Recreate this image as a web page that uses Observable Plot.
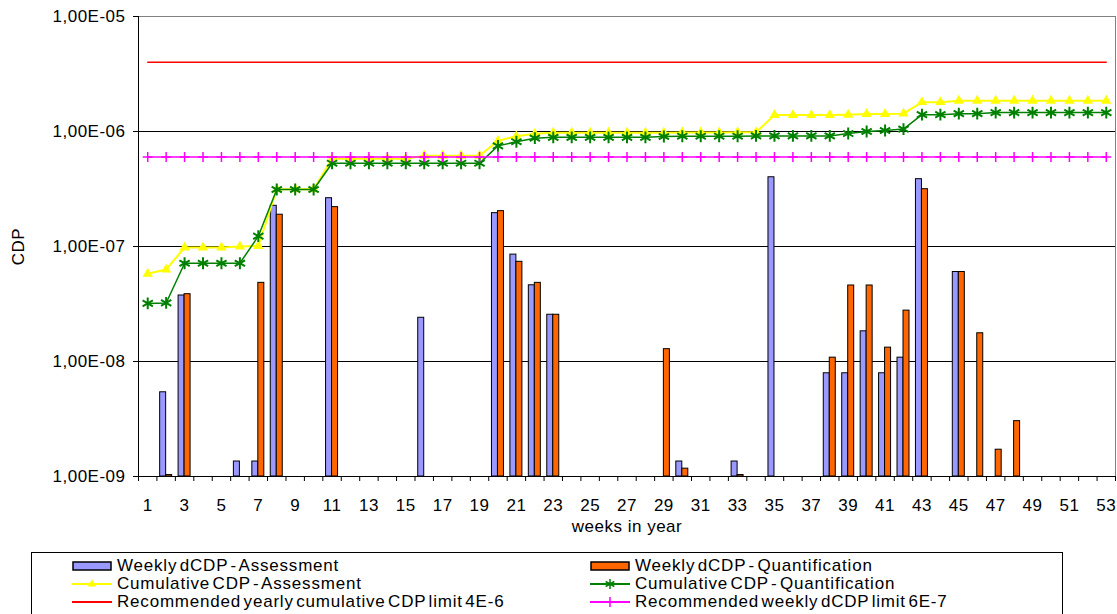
<!DOCTYPE html>
<html><head><meta charset="utf-8">
<script src="https://cdn.jsdelivr.net/npm/d3@7"></script>
<script src="https://cdn.jsdelivr.net/npm/@observablehq/plot@0.6"></script>
<style>
body{margin:0;background:#fff;font-family:"Liberation Sans",Arial,sans-serif;}
#wrap{position:relative;width:1117px;height:614px;overflow:hidden;background:#fff;}
#chart{position:absolute;left:0;top:0;}
#legend{position:absolute;left:31px;top:552px;width:1032px;height:80px;border:1px solid #000;box-sizing:border-box;background:#fff;}
.item{position:absolute;display:flex;align-items:center;font-size:17px;letter-spacing:0.8px;word-spacing:-3px;height:18px;white-space:nowrap;color:#000;}
.item svg{margin-right:5px;flex:none;}
</style></head><body>
<div id="wrap"><div id="chart"></div><div id="legend"></div></div>
<script>
// ---- data ----
const weeks = [1,2,3,4,5,6,7,8,9,10,11,12,13,14,15,16,17,18,19,20,21,22,23,24,25,26,27,28,29,30,31,32,33,34,35,36,37,38,39,40,41,42,43,44,45,46,47,48,49,50,51,52,53];
const weekLabels = [1,3,5,7,9,11,13,15,17,19,21,23,25,27,29,31,33,35,37,39,41,43,45,47,49,51,53];
const weeklyAssessment = [
  0, 5.4e-9, 3.75e-8, 0, 0, 1.35e-9, 1.35e-9, 2.26e-7, 0, 0,
  2.63e-7, 0, 0, 0, 0, 2.4e-8, 0, 0, 0, 1.95e-7,
  8.5e-8, 4.6e-8, 2.55e-8, 0, 0, 0, 0, 0, 0, 1.35e-9,
  0, 0, 1.35e-9, 0, 4.0e-7, 0, 0, 7.9e-9, 7.9e-9, 1.83e-8,
  7.9e-9, 1.08e-8, 3.85e-7, 0, 6.0e-8, 0, 0, 0, 0, 0,
  0, 0, 0];
const weeklyQuantification = [
  0, 1.03e-9, 3.85e-8, 0, 0, 0, 4.83e-8, 1.89e-7, 0, 0,
  2.2e-7, 0, 0, 0, 0, 0, 0, 0, 0, 2.03e-7,
  7.36e-8, 4.83e-8, 2.55e-8, 0, 0, 0, 0, 0, 1.28e-8, 1.17e-9,
  0, 0, 1.03e-9, 0, 0, 0, 0, 1.08e-8, 4.58e-8, 4.58e-8,
  1.32e-8, 2.77e-8, 3.15e-7, 0, 6.0e-8, 1.76e-8, 1.71e-9, 3.03e-9, 0, 0,
  0, 0, 0];
const cumulativeAssessment = [
  5.8e-8, 6.3e-8, 9.8e-8, 9.8e-8, 9.8e-8, 1.0e-7, 1.01e-7, 3.15e-7, 3.15e-7, 3.15e-7,
  5.8e-7, 5.8e-7, 5.8e-7, 5.8e-7, 5.8e-7, 6.15e-7, 6.15e-7, 6.15e-7, 6.15e-7, 8.3e-7,
  9.1e-7, 9.55e-7, 9.75e-7, 9.75e-7, 9.75e-7, 9.75e-7, 9.75e-7, 9.75e-7, 9.75e-7, 9.8e-7,
  9.8e-7, 9.8e-7, 9.85e-7, 9.85e-7, 1.39e-6, 1.39e-6, 1.39e-6, 1.39e-6, 1.4e-6, 1.42e-6,
  1.42e-6, 1.43e-6, 1.8e-6, 1.8e-6, 1.85e-6, 1.85e-6, 1.85e-6, 1.85e-6, 1.85e-6, 1.85e-6,
  1.85e-6, 1.85e-6, 1.85e-6];
const cumulativeQuantification = [
  3.2e-8, 3.23e-8, 7.15e-8, 7.15e-8, 7.15e-8, 7.15e-8, 1.23e-7, 3.13e-7, 3.13e-7, 3.13e-7,
  5.3e-7, 5.3e-7, 5.3e-7, 5.3e-7, 5.3e-7, 5.3e-7, 5.3e-7, 5.3e-7, 5.3e-7, 7.5e-7,
  8.15e-7, 8.75e-7, 8.9e-7, 8.9e-7, 8.9e-7, 8.9e-7, 8.9e-7, 8.9e-7, 9.05e-7, 9.1e-7,
  9.1e-7, 9.1e-7, 9.1e-7, 9.15e-7, 9.15e-7, 9.15e-7, 9.15e-7, 9.15e-7, 9.6e-7, 1.0e-6,
  1.02e-6, 1.05e-6, 1.4e-6, 1.4e-6, 1.43e-6, 1.43e-6, 1.46e-6, 1.46e-6, 1.46e-6, 1.46e-6,
  1.46e-6, 1.46e-6, 1.46e-6];
const yearlyLimit = 4e-6;
const weeklyLimit = 6e-7;
const yTicks = [1e-9, 1e-8, 1e-7, 1e-6, 1e-5];
const gridTicks = [1e-8, 1e-7, 1e-6];
const seriesNames = [
  "Weekly dCDP - Assessment", "Weekly dCDP - Quantification",
  "Cumulative CDP - Assessment", "Cumulative CDP - Quantification",
  "Recommended yearly cumulative CDP limit 4E-6", "Recommended weekly dCDP limit 6E-7"];
const colors = {assess:"#9999ff", quant:"#ff6600", cumA:"#ffff00", cumQ:"#008000", yearly:"#ff0000", weekly:"#ff00ff"};

// ---- build ----
const W = 1117, H = 545, ML = 138, MR = 2, MT = 16, MB = H - 476;
const bw = (W - ML - MR) / weeks.length;
const barW = 6;
const yMin = yTicks[0];
const assess = weeks.map((w,i)=>({week:w, value:weeklyAssessment[i]})).filter(d=>d.value>0);
const quant = weeks.map((w,i)=>({week:w, value:weeklyQuantification[i]})).filter(d=>d.value>0);
const cumA = weeks.map((w,i)=>({week:w, value:cumulativeAssessment[i]}));
const cumQ = weeks.map((w,i)=>({week:w, value:cumulativeQuantification[i]}));
const fmt = d => "1,00E-" + String(Math.round(-Math.log10(d))).padStart(2,"0");

const chart = Plot.plot({
  width: W, height: H, marginLeft: ML, marginRight: MR, marginTop: MT, marginBottom: MB,
  style: {fontFamily: "'Liberation Sans', Arial, sans-serif", fontSize: "17px", letterSpacing: "0.5px", color: "#000", background: "#fff", overflow: "visible"},
  x: {type: "band", domain: weeks, padding: 0, round: false},
  y: {type: "log", domain: [yTicks[0], yTicks[yTicks.length-1]]},
  marks: [
    Plot.frame({stroke: "#808080"}),
    Plot.ruleY(gridTicks, {stroke: "#000", strokeWidth: 1}),
    Plot.barY(assess, {x: "week", y1: () => yMin, y2: "value", fill: colors.assess, stroke: "#000", strokeWidth: 1, insetLeft: bw/2 - barW, insetRight: bw/2}),
    Plot.barY(quant, {x: "week", y1: () => yMin, y2: "value", fill: colors.quant, stroke: "#000", strokeWidth: 1, insetLeft: bw/2, insetRight: bw/2 - barW}),
    Plot.line(weeks, {x: d => d, y: () => yearlyLimit, stroke: colors.yearly, strokeWidth: 1.3}),
    Plot.line(cumA, {x: "week", y: "value", stroke: colors.cumA, strokeWidth: 2}),
    Plot.dot(cumA, {x: "week", y: "value", symbol: "triangle", fill: colors.cumA, stroke: "none", r: 3.8}),
    Plot.line(cumQ, {x: "week", y: "value", stroke: colors.cumQ, strokeWidth: 1.5}),
    Plot.dot(cumQ, {x: "week", y: "value", symbol: "asterisk", stroke: colors.cumQ, strokeWidth: 2, r: 5.6}),
    Plot.line(weeks, {x: d => d, y: () => weeklyLimit, stroke: colors.weekly, strokeWidth: 1.5}),
    Plot.dot(weeks, {x: d => d, y: () => weeklyLimit, symbol: "plus", stroke: colors.weekly, strokeWidth: 1.5, r: 3.3}),
    Plot.ruleY([yMin], {stroke: "#000"}),
    Plot.frame({anchor: "left", stroke: "#000"}),
    Plot.axisY({ticks: yTicks, tickFormat: fmt, tickSize: 5, tickPadding: 8, label: "CDP", labelAnchor: "center", labelOffset: 127, labelArrow: "none"}),
    Plot.axisX({ticks: weekLabels, tickSize: 0, tickPadding: 22, label: "weeks in year", labelAnchor: "center", labelOffset: 55, labelArrow: "none"}),
    Plot.axisX({ticks: weeks, tickSize: 5, text: null, dx: -bw/2, label: null}),
    Plot.axisX({ticks: [weeks[weeks.length-1]], tickSize: 5, text: null, dx: bw/2, label: null})
  ]
});
document.getElementById("chart").appendChild(chart);

// ---- legend ----
const legend = d3.select("#legend");
function swatch(sel, kind, color, symbol) {
  const svg = sel.append("svg").attr("width", 40).attr("height", 14);
  if (kind === "bar") {
    svg.append("rect").attr("x", 1).attr("y", 3).attr("width", 38).attr("height", 8).attr("fill", color).attr("stroke", "#000").attr("stroke-width", 1.5);
  } else {
    svg.append("line").attr("x1", 0).attr("x2", 40).attr("y1", 7).attr("y2", 7).attr("stroke", color).attr("stroke-width", 2);
    if (symbol) {
      const p = svg.append("path").attr("transform", "translate(20,7)").attr("d", d3.symbol(symbol, symbol === d3.symbolTriangle ? 30 : (symbol === d3.symbolPlus ? 36 : 70))());
      if (symbol === d3.symbolTriangle) p.attr("fill", color); else p.attr("fill", "none").attr("stroke", color).attr("stroke-width", 1.5);
    }
  }
}
const items = [
  {name: seriesNames[0], kind: "bar", color: colors.assess, col: 0, row: 0},
  {name: seriesNames[1], kind: "bar", color: colors.quant, col: 1, row: 0},
  {name: seriesNames[2], kind: "line", color: colors.cumA, sym: d3.symbolTriangle, col: 0, row: 1},
  {name: seriesNames[3], kind: "line", color: colors.cumQ, sym: d3.symbolAsterisk, col: 1, row: 1},
  {name: seriesNames[4], kind: "line", color: colors.yearly, col: 0, row: 2},
  {name: seriesNames[5], kind: "line", color: colors.weekly, sym: d3.symbolPlus, col: 1, row: 2}
];
items.forEach(it => {
  const div = legend.append("div").attr("class", "item").style("left", (it.col ? 558 : 40) + "px").style("top", (4 + it.row * 18) + "px");
  swatch(div, it.kind, it.color, it.sym);
  div.append("span").text(it.name);
});
</script>
</body></html>
